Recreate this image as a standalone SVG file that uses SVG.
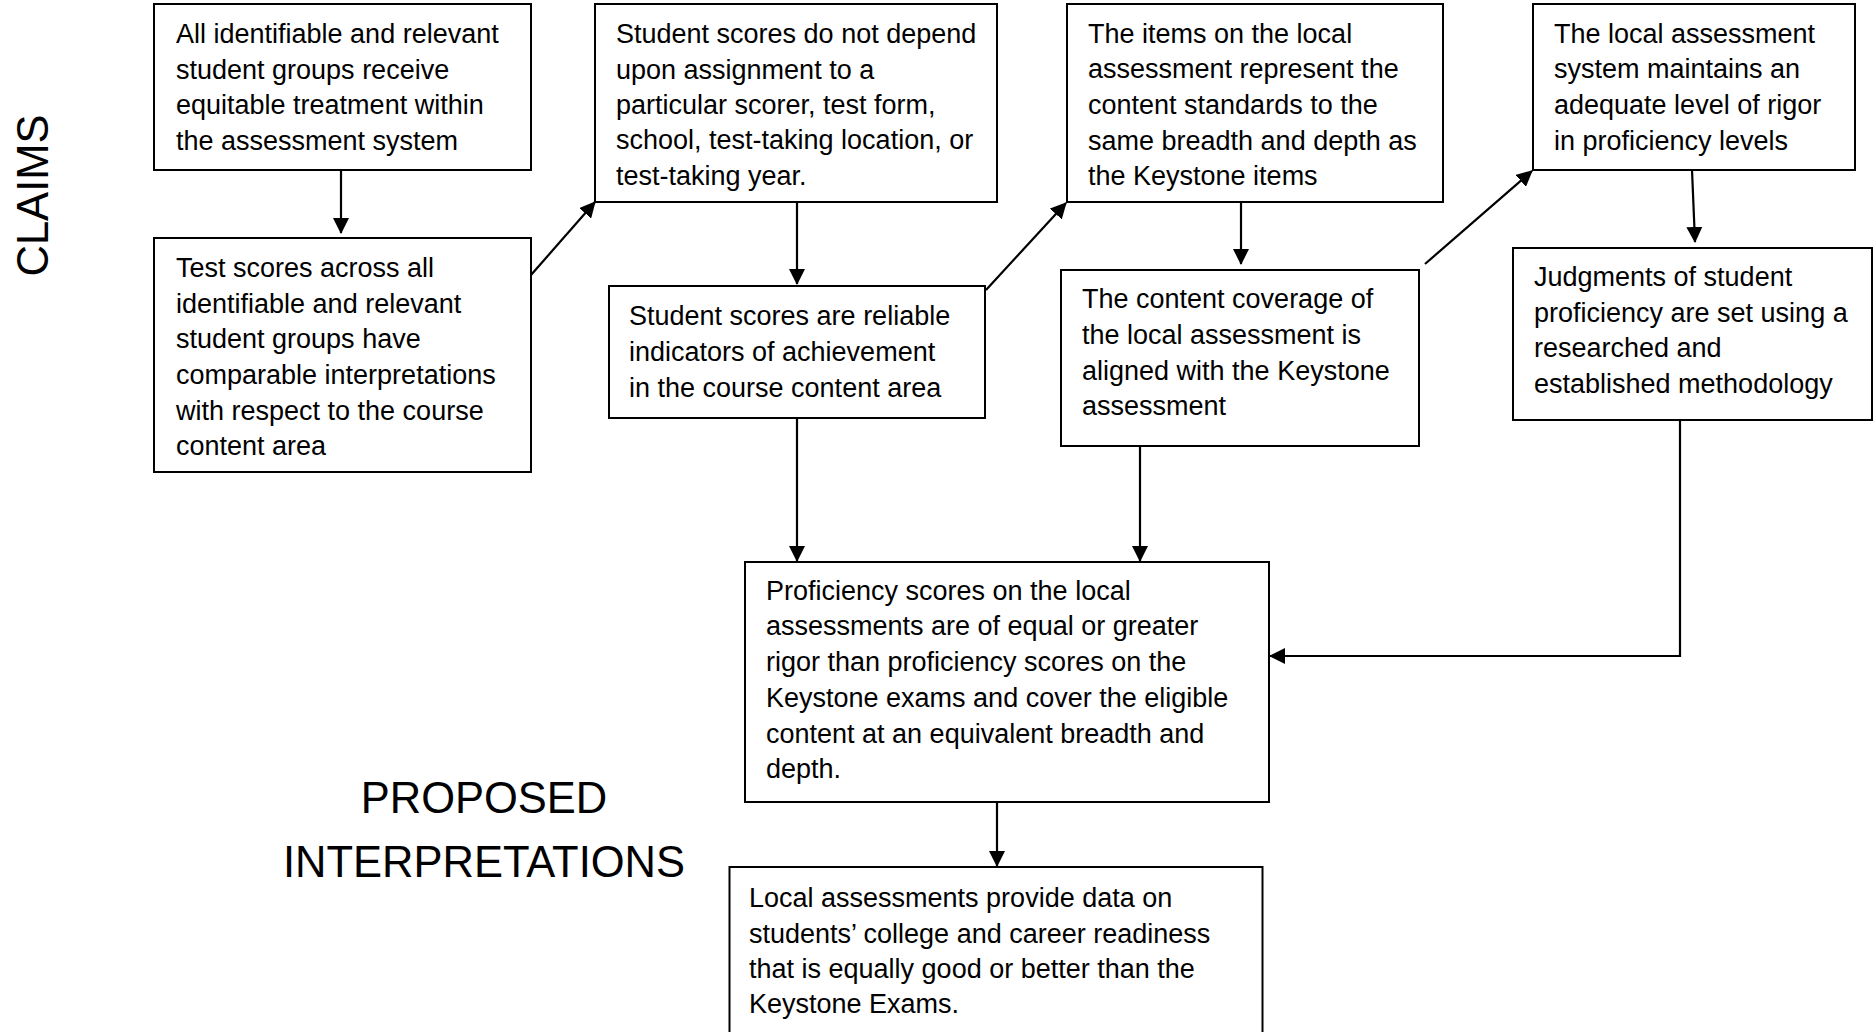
<svg xmlns="http://www.w3.org/2000/svg" width="1875" height="1032" viewBox="0 0 1875 1032">
<style>
.box{fill:#fff;stroke:#000;stroke-width:2}
.t{font-family:"Liberation Sans",Arial,sans-serif;font-size:27px;fill:#000}
.h{font-family:"Liberation Sans",Arial,sans-serif;font-size:43.5px;fill:#000}
.c{fill:none;stroke:#000;stroke-width:2.2}
</style>
<defs>
<marker id="ah" markerUnits="userSpaceOnUse" markerWidth="17" markerHeight="16" refX="15" refY="8" orient="auto">
<path d="M0,0 L16,8 L0,16 z" fill="#000"/>
</marker>
</defs>
<rect width="1875" height="1032" fill="#fff"/>
<g id="labels">
<text class="h" x="48" y="195.5" text-anchor="middle" transform="rotate(-90 48 195.5)">CLAIMS</text>
<text class="h" x="484" y="813" text-anchor="middle">PROPOSED</text>
<text class="h" x="484" y="877" text-anchor="middle">INTERPRETATIONS</text>
</g>
<g id="connectors">
<path class="c" d="M341,170 L341,233" marker-end="url(#ah)"/>
<path class="c" d="M531,275 L595,202" marker-end="url(#ah)"/>
<path class="c" d="M797,202 L797,284" marker-end="url(#ah)"/>
<path class="c" d="M986,290 L1066,203" marker-end="url(#ah)"/>
<path class="c" d="M1241,202 L1241,264" marker-end="url(#ah)"/>
<path class="c" d="M1425,264 L1532,171" marker-end="url(#ah)"/>
<path class="c" d="M1692,170 L1695,242" marker-end="url(#ah)"/>
<path class="c" d="M1680,420 L1680,656 L1270,656" marker-end="url(#ah)"/>
<path class="c" d="M797,418 L797,561" marker-end="url(#ah)"/>
<path class="c" d="M1140,446 L1140,561" marker-end="url(#ah)"/>
<path class="c" d="M997,802 L997,866" marker-end="url(#ah)"/>
</g>
<g id="n1">
<rect class="box" x="154" y="4" width="377" height="166"/>
<text class="t" x="176" y="43">All identifiable and relevant</text>
<text class="t" x="176" y="79">student groups receive</text>
<text class="t" x="176" y="114">equitable treatment within</text>
<text class="t" x="176" y="150">the assessment system</text>
</g>
<g id="n2">
<rect class="box" x="154" y="238" width="377" height="234"/>
<text class="t" x="176" y="277">Test scores across all</text>
<text class="t" x="176" y="313">identifiable and relevant</text>
<text class="t" x="176" y="348">student groups have</text>
<text class="t" x="176" y="384">comparable interpretations</text>
<text class="t" x="176" y="420">with respect to the course</text>
<text class="t" x="176" y="455">content area</text>
</g>
<g id="n3">
<rect class="box" x="595" y="4" width="402" height="198"/>
<text class="t" x="616" y="43">Student scores do not depend</text>
<text class="t" x="616" y="79">upon assignment to a</text>
<text class="t" x="616" y="114">particular scorer, test form,</text>
<text class="t" x="616" y="149">school, test-taking location, or</text>
<text class="t" x="616" y="185">test-taking year.</text>
</g>
<g id="n4">
<rect class="box" x="609" y="286" width="376" height="132"/>
<text class="t" x="629" y="325">Student scores are reliable</text>
<text class="t" x="629" y="361">indicators of achievement</text>
<text class="t" x="629" y="397">in the course content area</text>
</g>
<g id="n5">
<rect class="box" x="1067" y="4" width="376" height="198"/>
<text class="t" x="1088" y="43">The items on the local</text>
<text class="t" x="1088" y="78">assessment represent the</text>
<text class="t" x="1088" y="114">content standards to the</text>
<text class="t" x="1088" y="150">same breadth and depth as</text>
<text class="t" x="1088" y="185">the Keystone items</text>
</g>
<g id="n6">
<rect class="box" x="1061" y="270" width="358" height="176"/>
<text class="t" x="1082" y="308">The content coverage of</text>
<text class="t" x="1082" y="344">the local assessment is</text>
<text class="t" x="1082" y="380">aligned with the Keystone</text>
<text class="t" x="1082" y="415">assessment</text>
</g>
<g id="n7">
<rect class="box" x="1533" y="4" width="322" height="166"/>
<text class="t" x="1554" y="43">The local assessment</text>
<text class="t" x="1554" y="78">system maintains an</text>
<text class="t" x="1554" y="114">adequate level of rigor</text>
<text class="t" x="1554" y="150">in proficiency levels</text>
</g>
<g id="n8">
<rect class="box" x="1513" y="248" width="359" height="172"/>
<text class="t" x="1534" y="286">Judgments of student</text>
<text class="t" x="1534" y="322">proficiency are set using a</text>
<text class="t" x="1534" y="357">researched and</text>
<text class="t" x="1534" y="393">established methodology</text>
</g>
<g id="n9">
<rect class="box" x="745" y="562" width="524" height="240"/>
<text class="t" x="766" y="600">Proficiency scores on the local</text>
<text class="t" x="766" y="635">assessments are of equal or greater</text>
<text class="t" x="766" y="671">rigor than proficiency scores on the</text>
<text class="t" x="766" y="707">Keystone exams and cover the eligible</text>
<text class="t" x="766" y="743">content at an equivalent breadth and</text>
<text class="t" x="766" y="778">depth.</text>
</g>
<g id="n10">
<rect class="box" x="729.5" y="867" width="533" height="180"/>
<text class="t" x="749" y="907">Local assessments provide data on</text>
<text class="t" x="749" y="943">students’ college and career readiness</text>
<text class="t" x="749" y="978">that is equally good or better than the</text>
<text class="t" x="749" y="1013">Keystone Exams.</text>
</g>
</svg>
